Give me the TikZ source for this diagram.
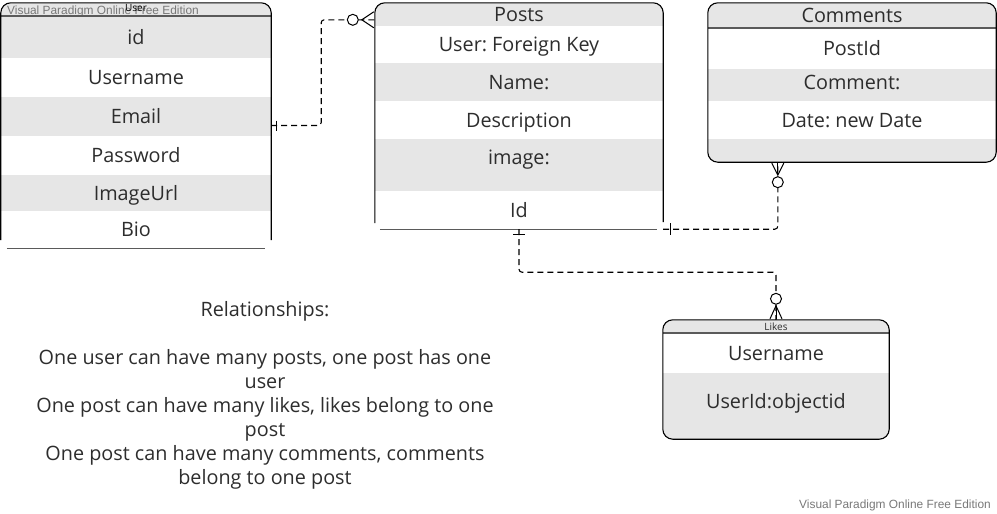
\documentclass[tikz,border=0pt]{standalone}
\usepackage{fontspec}
\setmainfont{Open Sans}
\newfontfamily\wmfont{Liberation Sans}
\usepackage{tikz}
\usetikzlibrary{positioning,calc}
\frenchspacing
\definecolor{rowgray}{RGB}{230,230,230}
\definecolor{txtgray}{RGB}{45,45,45}
\definecolor{wmgray}{RGB}{120,120,120}
\definecolor{linegray}{RGB}{90,90,90}
\tikzstyle{tbl}=[rectangle, inner sep=0pt]
\tikzstyle{cell}=[rectangle, inner sep=0pt, text=txtgray, font=\fontsize{19.8}{22}\selectfont, text height=16pt, text depth=2pt]
\tikzstyle{rowg}=[cell, fill=rowgray]
\tikzstyle{roww}=[cell, fill=white]
\tikzstyle{small}=[rectangle, inner sep=0pt, text=black, font=\fontsize{10}{12}\selectfont]
\tikzstyle{wm}=[inner sep=0pt, text=wmgray, font=\wmfont\fontsize{11.9}{13}\selectfont]
\tikzstyle{edge}=[line width=1.1pt, rounded corners=10pt]
\tikzstyle{hline}=[line width=1.6pt, draw=linegray]
\tikzstyle{rel}=[line width=1.1pt, dash pattern=on 6pt off 4pt, rounded corners=3pt]
\tikzstyle{sym}=[line width=1pt, solid]

\begin{document}
\begin{tikzpicture}[x=1pt,y=-1pt]
\useasboundingbox (0,0) rectangle (997,514);
\node[tbl, minimum width=270pt, minimum height=245pt] (user) at (136,125.5) {};
\node[tbl, minimum width=288pt, minimum height=226pt] (posts) at (519,116) {};
\node[tbl, minimum width=288pt, minimum height=159pt] (comments) at (852,82.5) {};
\node[tbl, minimum width=226pt, minimum height=119pt] (likes) at (776,379.5) {};

\begin{scope}
\clip[rounded corners=10pt] (user.north west) rectangle (user.south east);
\node[small, fill=rowgray, minimum width=270pt, minimum height=13pt] (utitle) at (136,9.5) {};
\node[wm, anchor=west] (wmtop) at (7,11) {Visual Paradigm Online Free Edition};
\node[small] (utitletext) at (136,8) {User};
\node[rowg, minimum width=270pt, minimum height=42pt] (uid) at (136,37) {id};
\node[roww, minimum width=270pt, minimum height=39pt] (uname) at (136,77.5) {Username};
\node[rowg, minimum width=270pt, minimum height=39pt] (uemail) at (136,116.5) {Email};
\node[roww, minimum width=270pt, minimum height=39pt] (upass) at (136,155.5) {Password};
\node[rowg, minimum width=270pt, minimum height=36pt] (uimg) at (136,193) {ImageUrl};
\node[roww, minimum width=270pt, minimum height=37pt] (ubio) at (136,229.5) {Bio};
\draw[hline] (utitle.south west) -- (utitle.south east);
\end{scope}
\draw[edge] ($(user.south west)+(0,-8)$) |- (user.north east) -- ($(user.south east)+(0,-8)$);
\draw[draw=linegray] ($(user.south west)+(6,0)$) -- ($(user.south east)+(-6,0)$);

\begin{scope}
\clip[rounded corners=10pt] (posts.north west) rectangle (posts.south east);
\node[rowg, minimum width=288pt, minimum height=23pt] (ptitle) at (519,14.5) {Posts};
\node[roww, minimum width=288pt, minimum height=37pt] (pfk) at (519,44.5) {User: Foreign Key};
\node[rowg, minimum width=288pt, minimum height=38pt] (pname) at (519,82) {Name:};
\node[roww, minimum width=288pt, minimum height=38pt] (pdesc) at (519,120) {Description};
\node[rowg, minimum width=288pt, minimum height=52pt] (pimg) at (519,165) {};
\node[cell] (pimgtext) at (519,157) {image:};
\node[roww, minimum width=288pt, minimum height=38pt] (pid) at (519,210) {Id};
\end{scope}
\draw[edge] ($(posts.south west)+(0,-6)$) |- (posts.north east) -- ($(posts.south east)+(0,-7)$);
\draw[draw=linegray] ($(posts.south west)+(5,0)$) -- ($(posts.south east)+(-6,0)$);

\begin{scope}
\clip[rounded corners=10pt] (comments.north west) rectangle (comments.south east);
\node[rowg, minimum width=288pt, minimum height=25pt] (ctitle) at (852,15.5) {Comments};
\node[roww, minimum width=288pt, minimum height=40pt] (cpost) at (852,49) {PostId};
\node[rowg, minimum width=288pt, minimum height=32pt] (ccomm) at (852,85) {};
\node[cell] (ccommtext) at (852,82) {Comment:};
\node[roww, minimum width=288pt, minimum height=38pt] (cdate) at (852,120) {Date: new Date};
\node[rowg, minimum width=288pt, minimum height=23pt] (cfoot) at (852,150.5) {};
\draw[hline] (ctitle.south west) -- (ctitle.south east);
\end{scope}
\draw[edge] (comments.north west) rectangle (comments.south east);

\begin{scope}
\clip[rounded corners=10pt] (likes.north west) rectangle (likes.south east);
\node[small, fill=rowgray, text=txtgray, minimum width=226pt, minimum height=13pt] (ltitle) at (776,326.5) {Likes};
\node[roww, minimum width=226pt, minimum height=40pt] (lname) at (776,353) {Username};
\node[rowg, minimum width=226pt, minimum height=66pt] (luid) at (776,406) {};
\node[cell] (luidtext) at (776,401) {UserId:objectid};
\draw[hline] (ltitle.south west) -- (ltitle.south east);
\end{scope}
\draw[edge] (likes.north west) rectangle (likes.south east);

\draw[rel] (user.east) -- ++(50,0) |- ($(posts.north west)+(0,17)$);
\draw[sym] ($(user.east)+(5,-5)$) -- ++(0,10);
\draw[sym] ($(posts.north west)+(-1,9)$) -- ($(posts.north west)+(-13,17)$) -- ($(posts.north west)+(-1,25)$);
\draw[sym, fill=white] ($(posts.north west)+(-22,17)$) circle (5.5);

\draw[rel] (posts.south east) -| ($(comments.south west)+(70,0)$);
\draw[sym] ($(posts.south east)+(7,-6)$) -- ++(0,12);
\draw[sym] ($(comments.south west)+(64,1)$) -- ($(comments.south west)+(70,13)$) -- ($(comments.south west)+(76,1)$);
\draw[sym] ($(comments.south west)+(70,1)$) -- ($(comments.south west)+(70,13)$);
\draw[sym, fill=white] ($(comments.south west)+(70,20)$) circle (5.5);

\draw[rel] (posts.south) -- ++(0,43) -| (likes.north);
\draw[sym] ($(posts.south)+(-6,5)$) -- ++(12,0);
\draw[sym] ($(likes.north)+(-6,-1)$) -- ($(likes.north)+(0,-14)$) -- ($(likes.north)+(6,-1)$);
\draw[sym] ($(likes.north)+(0,-1)$) -- ($(likes.north)+(0,-14)$);
\draw[sym, fill=white] ($(likes.north)+(0,-21)$) circle (5.5);

\node[align=center, text=txtgray, font=\fontsize{19.8}{24}\selectfont] (relnote) at (265,395) {Relationships:\\~\\One user can have many posts, one post has one\\user\\One post can have many likes, likes belong to one\\post\\One post can have many comments, comments\\belong to one post};
\node[wm, anchor=east] (wmbottom) at (991,505) {Visual Paradigm Online Free Edition};
\end{tikzpicture}
\end{document}
